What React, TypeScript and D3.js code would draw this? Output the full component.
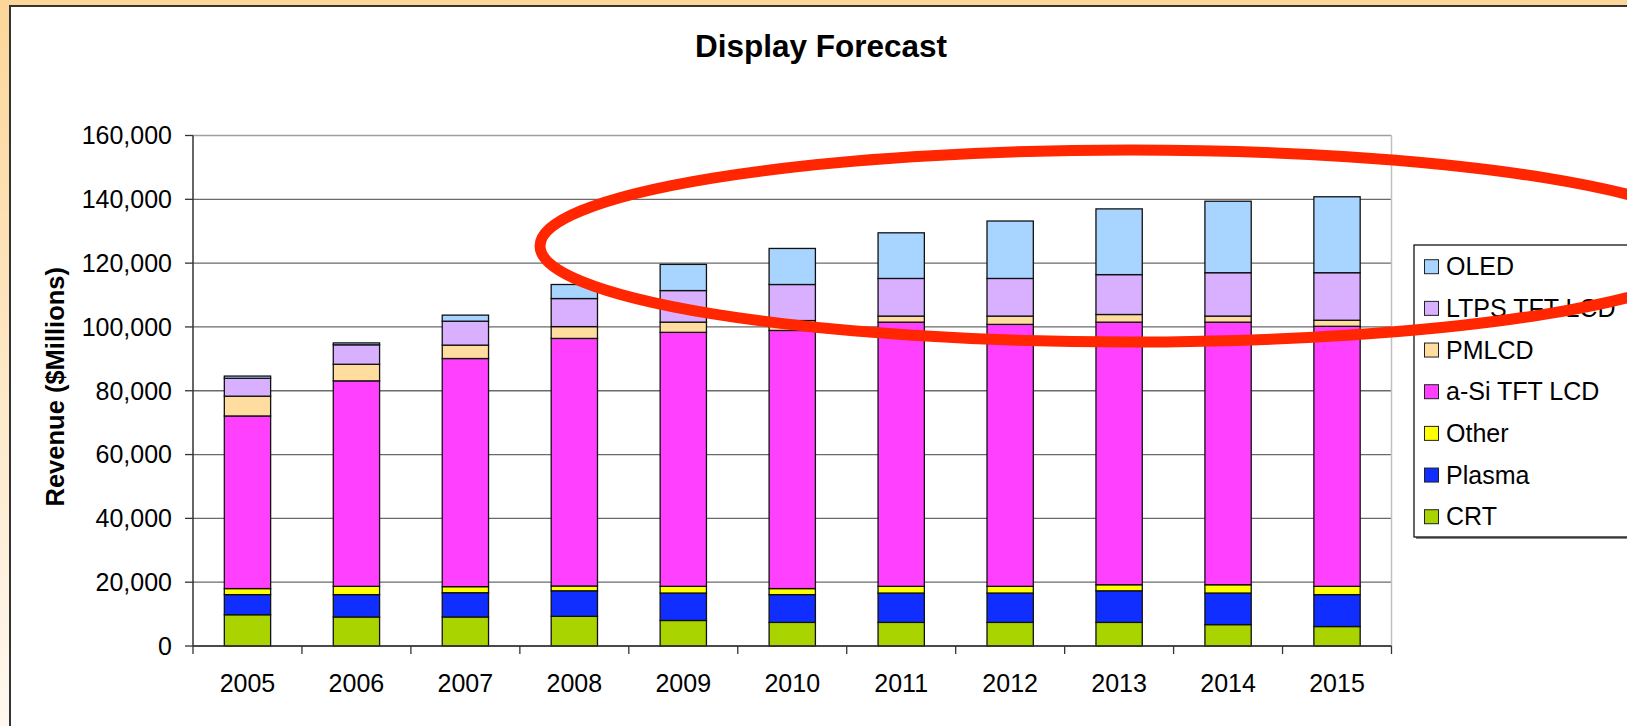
import React from "react";
import * as d3 from "d3";

const years = ["2005","2006","2007","2008","2009","2010","2011","2012","2013","2014","2015"];
const seriesNames = ["CRT","Plasma","Other","a-Si TFT LCD","PMLCD","LTPS TFT LCD","OLED"];
const crt    = [9.8, 9.1, 9.1, 9.3, 8.0, 7.4, 7.4, 7.4, 7.4, 6.7, 6.1];
const plasma = [6.3, 7.0, 7.6, 8.0, 8.6, 8.7, 9.2, 9.2, 9.9, 9.9, 10.0];
const other  = [1.9, 2.6, 1.9, 1.5, 2.1, 1.9, 2.1, 2.1, 1.9, 2.6, 2.6];
const asi    = [54.1, 64.4, 71.5, 77.6, 79.6, 80.9, 82.8, 82.1, 82.3, 82.3, 81.5];
const pmlcd  = [6.2, 5.2, 4.2, 3.7, 3.2, 3.1, 1.9, 2.6, 2.4, 1.9, 1.9];
const ltps   = [5.6, 6.1, 7.5, 8.8, 9.9, 11.3, 11.8, 11.8, 12.5, 13.6, 14.9];
const oled   = [0.7, 0.6, 1.9, 4.4, 8.2, 11.3, 14.3, 18.0, 20.6, 22.4, 23.8];
const seriesValues = [crt, plasma, other, asi, pmlcd, ltps, oled];
const colors = ["#aad400", "#0f2eff", "#ffff00", "#ff40ff", "#ffdd9f", "#d8b0ff", "#a8d5ff"];
const yTicks = [0, 20000, 40000, 60000, 80000, 100000, 120000, 140000, 160000];

const FONT = "'Liberation Sans', Arial, Helvetica, sans-serif";

export default function App() {
  const W = 1627, H = 726;
  const left = 193, right = 1391.5, top = 135.5, bottom = 646;
  const x = d3.scaleBand<string>().domain(years).range([left, right]).paddingInner(0.575).paddingOuter(0.2875);
  const band = d3.scaleBand<string>().domain(years).range([left, right]);
  const y = d3.scaleLinear().domain([0, 160000]).range([bottom, top]);

  const rows = years.map((yr, i) => {
    const r: any = { year: yr };
    seriesNames.forEach((s, j) => (r[s] = seriesValues[j][i] * 1000));
    return r;
  });
  const stacked = d3.stack<any>().keys(seriesNames)(rows);
  const fmt = d3.format(",");

  const legendOrder = [...seriesNames].reverse();
  const legX = 1414, legY = 245, legStep = 41.67;

  return (
    <svg width={W} height={H} style={{ position: "absolute", left: 0, top: 0, display: "block" }}
      fontFamily={FONT}>
      <defs>
        <linearGradient id="bg" x1="0" y1="0" x2="0" y2="1">
          <stop offset="0%" stopColor="#fcd699" />
          <stop offset="100%" stopColor="#fff8f0" />
        </linearGradient>
      </defs>
      <rect x={0} y={0} width={W} height={H} fill="url(#bg)" />
      <rect x={10} y={6} width={W} height={H} fill="#ffffff" stroke="#333" strokeWidth={2} />

      <text x={821} y={57} textAnchor="middle" fontWeight="bold" fontSize={31.5} fill="#000">Display Forecast</text>

      {/* gridlines */}
      {yTicks.map((t) => (
        <line key={"g" + t} x1={left} x2={right} y1={y(t)} y2={y(t)}
          stroke={t === 160000 ? "#a0a0a0" : "#6a6a6a"} strokeWidth={1.3} />
      ))}
      <line x1={right} x2={right} y1={top} y2={bottom} stroke="#c0c0c0" strokeWidth={1.5} />

      {/* bars */}
      {stacked.map((layer, j) => (
        <g key={layer.key}>
          {layer.map((d, i) => (
            <rect key={i} x={x(years[i])} width={x.bandwidth()}
              y={y(d[1])} height={Math.max(0, y(d[0]) - y(d[1]))}
              fill={colors[j]} stroke="#111" strokeWidth={1.3} />
          ))}
        </g>
      ))}

      {/* axes */}
      <line x1={left} x2={left} y1={top} y2={bottom} stroke="#333" strokeWidth={1.5} />
      <line x1={left} x2={right} y1={bottom} y2={bottom} stroke="#333" strokeWidth={1.5} />
      {yTicks.map((t) => (
        <g key={"t" + t}>
          <line x1={left - 8} x2={left} y1={y(t)} y2={y(t)} stroke="#333" strokeWidth={1.3} />
          <text x={172} y={y(t)} dy="0.35em" textAnchor="end" fontSize={25} fill="#000">{fmt(t)}</text>
        </g>
      ))}
      {years.map((yr, i) => (
        <line key={"xt" + i} x1={band(yr)} x2={band(yr)} y1={bottom} y2={bottom + 8} stroke="#333" strokeWidth={1.3} />
      ))}
      <line x1={right} x2={right} y1={bottom} y2={bottom + 8} stroke="#333" strokeWidth={1.3} />
      {years.map((yr) => (
        <text key={"xl" + yr} x={(x(yr) as number) + x.bandwidth() / 2} y={692} textAnchor="middle" fontSize={25} fill="#000">{yr}</text>
      ))}

      <text transform={`translate(64, ${(top + bottom) / 2 - 4}) rotate(-90)`} textAnchor="middle"
        fontWeight="bold" fontSize={25.5} fill="#000">Revenue ($Millions)</text>

      {/* legend */}
      <rect x={legX + 2} y={legY + 2} width={W} height={292} fill="#888" />
      <rect x={legX} y={legY} width={W} height={292} fill="#fff" stroke="#000" strokeWidth={1.2} />
      {legendOrder.map((s, k) => {
        const cy = 266.7 + k * legStep;
        const j = seriesNames.indexOf(s);
        return (
          <g key={"lg" + s}>
            <rect x={1424.5} y={cy - 7} width={14} height={14} fill={colors[j]} stroke="#222" strokeWidth={1} />
            <text x={1446} y={cy} dy="0.35em" fontSize={25} fill="#000">{s}</text>
          </g>
        );
      })}

      {/* annotation ellipse */}
      <ellipse cx={1130} cy={246} rx={590} ry={96} fill="none" stroke="#ff2600" strokeWidth={11} />
    </svg>
  );
}
